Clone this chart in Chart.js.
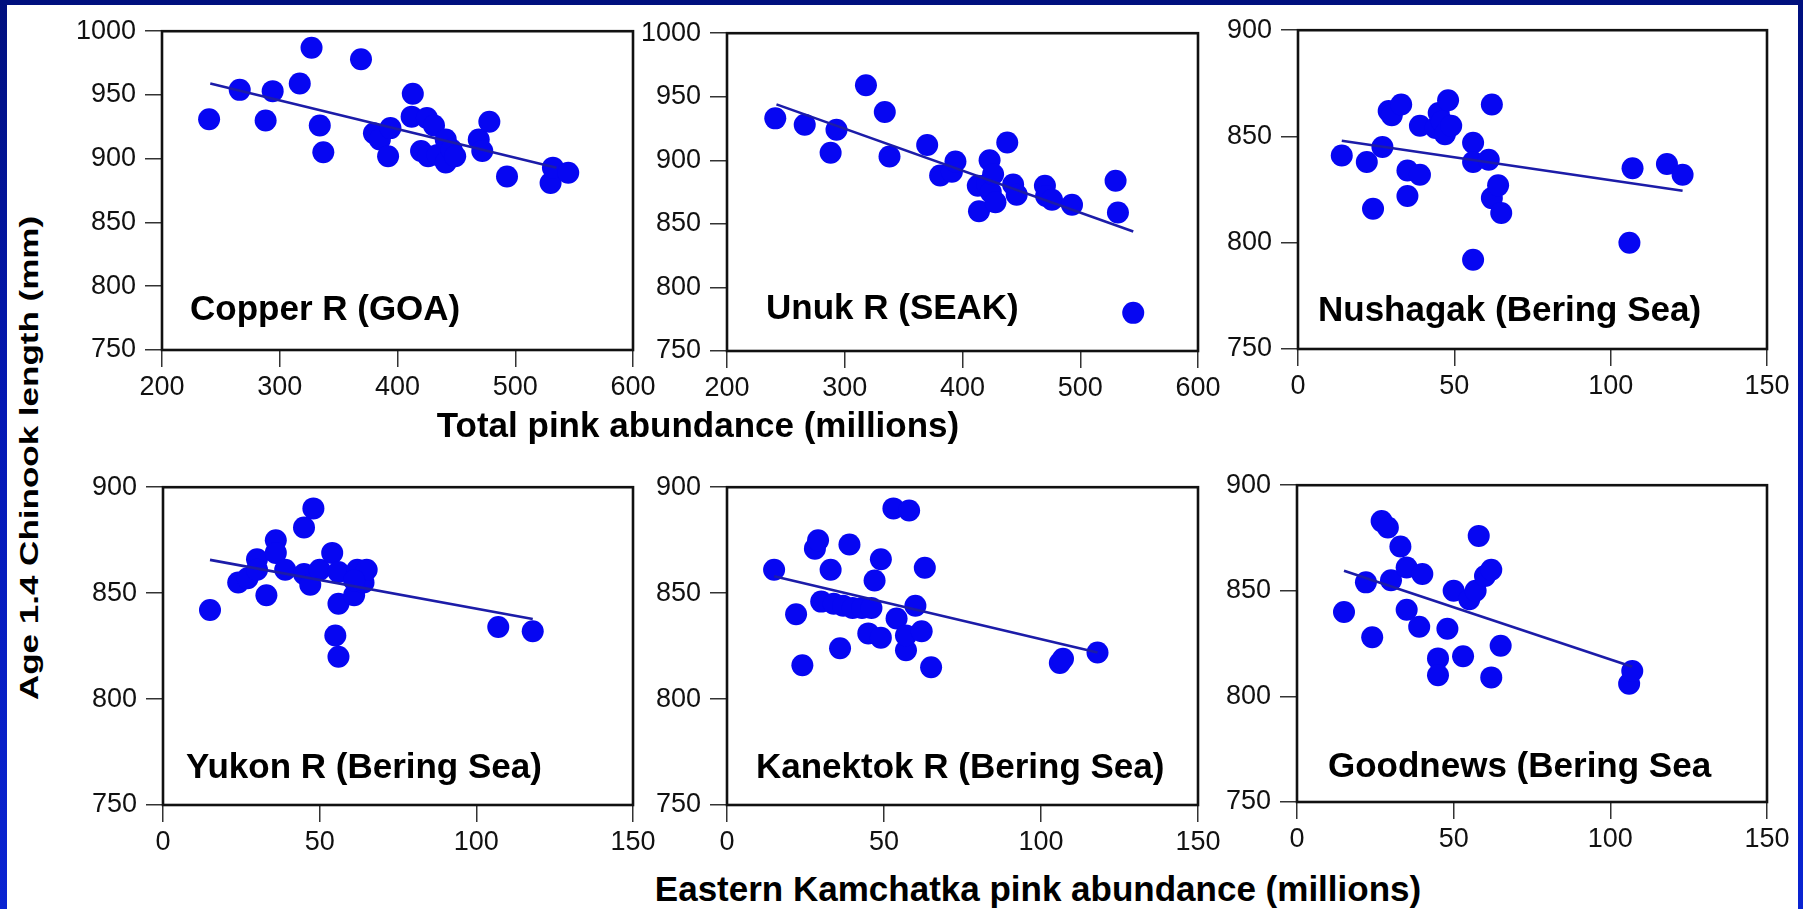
<!DOCTYPE html>
<html>
<head>
<meta charset="utf-8">
<script src="https://cdn.jsdelivr.net/npm/chart.js@4.4.0/dist/chart.umd.min.js"></script>
<style>
  html, body { margin: 0; padding: 0; }
  body {
    width: 1803px; height: 909px; overflow: hidden; position: relative;
    background: linear-gradient(#00107e 0%, #0418b4 45%, #0a24d2 100%);
    font-family: 'Liberation Sans', Arial, sans-serif;
  }
  #sheet { position: absolute; left: 7px; top: 5px; right: 5px; bottom: 0; background: #fff; }
  canvas { position: absolute; }
  .title {
    position: absolute; font-weight: bold; font-size: 35px; color: #000;
    white-space: nowrap; transform: translate(-50%, -50%);
  }
  #ytitle { transform: translate(-50%, -50%) rotate(-90deg) scaleY(0.75); }
</style>
</head>
<body>
<div id="sheet"></div>
<canvas id="c1"></canvas>
<canvas id="c2"></canvas>
<canvas id="c3"></canvas>
<canvas id="c4"></canvas>
<canvas id="c5"></canvas>
<canvas id="c6"></canvas>
<div class="title" style="left:698px; top:425px">Total pink abundance (millions)</div>
<div class="title" style="left:1038px; top:889px">Eastern Kamchatka pink abundance (millions)</div>
<div class="title" id="ytitle" style="left:29px; top:458px">Age 1.4 Chinook length (mm)</div>
<script>
// values (x = pink abundance, y = Chinook length)
const copperX = [240, 266, 288, 294, 317, 327, 334, 337, 369, 380, 385, 392, 394, 412, 413, 420, 425, 426, 431, 434, 441, 441, 446, 449, 469, 472, 478, 493, 530, 532, 545];
const copperY = [931, 954, 930, 953, 959, 987, 926, 905, 978, 920, 915, 902, 924, 933, 951, 906, 932, 902, 926, 903, 915, 897, 907, 902, 915, 906, 929, 886, 881, 893, 889];
const copperFitX = [241, 535];
const copperFitY = [959, 893];

const unukX = [241, 266, 288, 293, 318, 334, 338, 370, 381, 391, 394, 413, 414, 421, 423, 424, 426, 428, 438, 443, 446, 470, 471, 476, 493, 530, 532, 545];
const unukY = [933, 928, 906, 924, 959, 938, 903, 912, 888, 891, 899, 880, 860, 881, 900, 875, 889, 867, 914, 881, 873, 880, 872, 869, 865, 884, 859, 780];
const unukFitX = [242, 545];
const unukFitY = [944, 844];

const nushagakX = [14, 22, 24, 27, 29, 30, 33, 35, 35, 39, 39, 44, 45, 46, 47, 48, 49, 56, 56, 61, 62, 62, 64, 65, 56, 106, 107, 118, 123];
const nushagakY = [841, 838, 816, 845, 862, 860, 865, 834, 822, 832, 855, 854, 861, 857, 851, 867, 855, 847, 838, 839, 865, 821, 827, 814, 792, 800, 835, 837, 832];
const nushagakFitX = [14, 123];
const nushagakFitY = [848, 824.5];

const yukonX = [15, 24, 27, 30, 30, 33, 36, 36, 39, 45, 48, 45, 47, 50, 54, 56, 56, 55, 56, 61, 62, 64, 65, 61, 107, 118];
const yukonY = [842, 855, 857, 866, 861, 849, 875, 869, 861, 881, 890, 859, 854, 861, 869, 860, 845, 830, 820, 849, 861, 855, 861, 856, 834, 832];
const yukonFitX = [15, 118];
const yukonFitY = [865.7, 837.8];

const kanektokX = [15, 22, 24, 28, 29, 30, 33, 34, 36, 37, 39, 40, 43, 45, 46, 47, 49, 49, 53, 54, 57, 57, 58, 60, 62, 63, 65, 106, 107, 118];
const kanektokY = [861, 840, 816, 871, 875, 846, 861, 845, 824, 844, 873, 843, 843, 831, 843, 856, 866, 829, 890, 838, 823, 830, 889, 844, 832, 862, 815, 817, 819, 822];
const kanektokFitX = [15, 118];
const kanektokFitY = [858, 822];

const goodnewsX = [15, 22, 24, 27, 29, 30, 33, 35, 35, 39, 40, 45, 45, 48, 50, 53, 55, 57, 58, 60, 62, 62, 65, 106, 107];
const goodnewsY = [840, 854, 828, 883, 880, 855, 871, 861, 841, 833, 858, 818, 810, 832, 850, 819, 846, 850, 876, 857, 860, 809, 824, 806, 812];
const goodnewsFitX = [15, 107];
const goodnewsFitY = [859.5, 814];

const totalTicks = [200, 600, 100];   // min, max, step
const kamTicks = [0, 150, 50];
const lenTicksTop = [750, 1000, 50];
const lenTicksNum = [750, 900, 50];

// plot boxes in page pixels: left, top, right, bottom; label offset from box left / bottom
const panels = [
  { id: 'c1', name: 'Copper R (GOA)',        xs: copperX,   ys: copperY,   fx: copperFitX,   fy: copperFitY,   xt: totalTicks, yt: lenTicksTop, box: [162, 26, 633, 350], lab: [28, 30] },
  { id: 'c2', name: 'Unuk R (SEAK)',         xs: unukX,     ys: unukY,     fx: unukFitX,     fy: unukFitY,     xt: totalTicks, yt: lenTicksTop, box: [727, 28, 1198, 351], lab: [39, 32] },
  { id: 'c3', name: 'Nushagak (Bering Sea)', xs: nushagakX, ys: nushagakY, fx: nushagakFitX, fy: nushagakFitY, xt: kamTicks,   yt: lenTicksNum, box: [1298, 25, 1767, 349], lab: [20, 28] },
  { id: 'c4', name: 'Yukon R (Bering Sea)',  xs: yukonX,    ys: yukonY,    fx: yukonFitX,    fy: yukonFitY,    xt: kamTicks,   yt: lenTicksNum, box: [163, 482, 633, 805], lab: [23, 27] },
  { id: 'c5', name: 'Kanektok R (Bering Sea)', xs: kanektokX, ys: kanektokY, fx: kanektokFitX, fy: kanektokFitY, xt: kamTicks, yt: lenTicksNum, box: [727, 482, 1198, 805], lab: [29, 27] },
  { id: 'c6', name: 'Goodnews (Bering Sea',  xs: goodnewsX, ys: goodnewsY, fx: goodnewsFitX, fy: goodnewsFitY, xt: kamTicks,   yt: lenTicksNum, box: [1297, 480, 1767, 802], lab: [31, 25] },
];

const YW = 110, XH = 62, TP = 20, RP = 32;
const FONT = "'Liberation Sans', Arial, sans-serif";
Chart.defaults.font.family = FONT;
Chart.defaults.color = '#111';

const framePlugin = {
  id: 'frame',
  beforeDatasetsDraw(chart, args, opts) {
    const { ctx, chartArea: a } = chart;
    ctx.save();
    ctx.strokeStyle = '#111';
    ctx.lineWidth = 2.6;
    ctx.strokeRect(a.left, a.top, a.right - a.left, a.bottom - a.top);
    ctx.font = 'bold 35px ' + FONT;
    ctx.fillStyle = '#000';
    ctx.textBaseline = 'alphabetic';
    ctx.fillText(opts.text, a.left + opts.dx, a.bottom - opts.dy);
    ctx.restore();
  }
};

function pts(xs, ys) { return xs.map((x, i) => ({ x, y: ys[i] })); }

function axis(t, isX) {
  return {
    type: 'linear', min: t[0], max: t[1],
    ticks: {
      stepSize: t[2], padding: isX ? 4 : 9, font: { size: 27 }, color: '#111',
      maxRotation: 0, autoSkip: false, callback: v => String(v)
    },
    grid: { display: true, drawOnChartArea: false, drawTicks: true, tickLength: 17, color: '#333', lineWidth: 1.5 },
    border: { display: false },
    afterFit(s) { if (isX) s.height = XH; else s.width = YW; }
  };
}

panels.forEach(p => {
  const [l, t, r, b] = p.box;
  const cv = document.getElementById(p.id);
  const w = YW + (r - l) + RP, h = TP + (b - t) + XH;
  cv.width = w; cv.height = h;
  cv.style.width = w + 'px'; cv.style.height = h + 'px';
  cv.style.left = (l - YW) + 'px'; cv.style.top = (t - TP) + 'px';
  new Chart(cv.getContext('2d'), {
    type: 'scatter',
    data: {
      datasets: [
        { data: pts(p.fx, p.fy), showLine: true, borderColor: '#1c1ca8', borderWidth: 2.6, pointRadius: 0 },
        { data: pts(p.xs, p.ys), backgroundColor: '#0606f2', borderWidth: 0, pointRadius: 11, pointHoverRadius: 11 }
      ]
    },
    options: {
      responsive: false,
      animation: false,
      layout: { padding: { top: TP, right: RP, left: 0, bottom: 0 } },
      plugins: {
        legend: { display: false },
        tooltip: { enabled: false },
        frame: { text: p.name, dx: p.lab[0], dy: p.lab[1] }
      },
      scales: { x: axis(p.xt, true), y: axis(p.yt, false) }
    },
    plugins: [framePlugin]
  });
});
</script>
</body>
</html>
